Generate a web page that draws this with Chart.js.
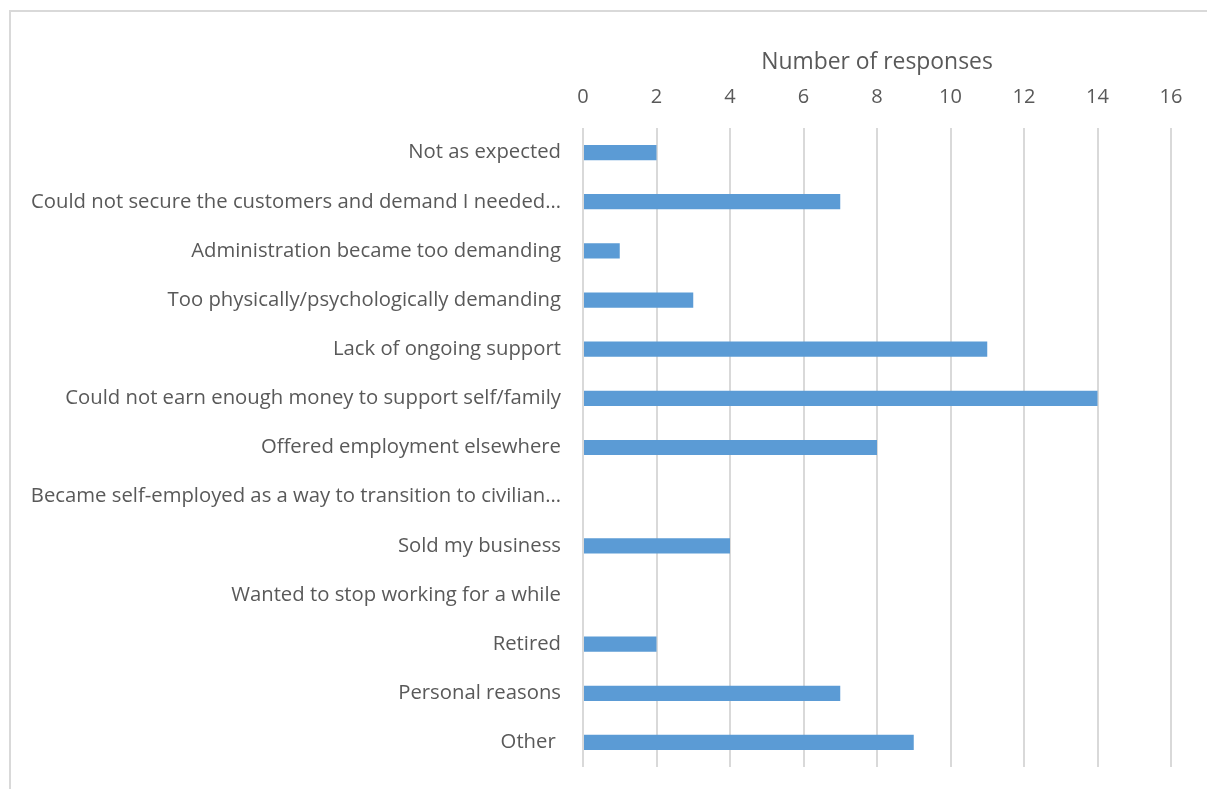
<!DOCTYPE html>
<html>
<head>
<meta charset="utf-8">
<script src="https://cdn.jsdelivr.net/npm/chart.js@4"></script>
<style>
  html, body { margin: 0; padding: 0; background: #fff; }
  #wrap { position: absolute; left: 0; top: 0; width: 1207px; height: 789px; }
  #frame { position: absolute; left: 9px; top: 10px; width: 1220px; height: 800px; border: 2px solid #d9d9d9; box-sizing: border-box; }
  canvas { display: block; position: absolute; left: 0; top: 0; }
</style>
</head>
<body>
<div id="wrap">
  <div id="frame"></div>
  <canvas id="chart" width="1207" height="789"></canvas>
</div>
<script>
const categories = [
  'Not as expected',
  'Could not secure the customers and demand I needed…',
  'Administration became too demanding',
  'Too physically/psychologically demanding',
  'Lack of ongoing support',
  'Could not earn enough money to support self/family',
  'Offered employment elsewhere',
  'Became self-employed as a way to transition to civilian…',
  'Sold my business',
  'Wanted to stop working for a while',
  'Retired',
  'Personal reasons',
  'Other '
];
const responses = [2, 7, 1, 3, 11, 14, 8, 0, 4, 0, 2, 7, 9];
const xTicks = [0, 2, 4, 6, 8, 10, 12, 14, 16];

const textColor = '#595959';
const fontFamily = '"Open Sans", sans-serif';

new Chart(document.getElementById('chart'), {
  type: 'bar',
  data: {
    labels: categories,
    datasets: [{
      label: 'Number of responses',
      data: responses,
      backgroundColor: '#5b9bd5',
      borderWidth: 0,
      categoryPercentage: 1,
      barPercentage: 0.31
    }]
  },
  options: {
    indexAxis: 'y',
    responsive: false,
    animation: false,
    layout: { padding: { left: 10, top: 10, right: 36, bottom: 22 } },
    plugins: {
      legend: { display: false },
      tooltip: { enabled: false }
    },
    scales: {
      x: {
        position: 'top',
        min: 0,
        max: 16,
        afterBuildTicks: (scale) => { scale.ticks = xTicks.map(v => ({ value: v })); },
        afterFit: (scale) => { scale.height = 118; },
        border: { display: false },
        grid: { color: '#d9d9d9', lineWidth: 2, drawTicks: false },
        ticks: { color: textColor, padding: 19, font: { family: fontFamily, size: 20 } },
        title: {
          display: true,
          text: 'Number of responses',
          color: textColor,
          padding: { top: 39, bottom: 0 },
          font: { family: fontFamily, size: 22.9 }
        }
      },
      y: {
        afterFit: (scale) => {
          scale.width = 573;
          scale.paddingTop = 0;
          scale.paddingBottom = 0;
        },
        border: { display: false },
        grid: { display: false, drawTicks: false },
        ticks: { color: textColor, padding: 22, font: { family: fontFamily, size: 20.3 } }
      }
    }
  }
});
</script>
</body>
</html>
